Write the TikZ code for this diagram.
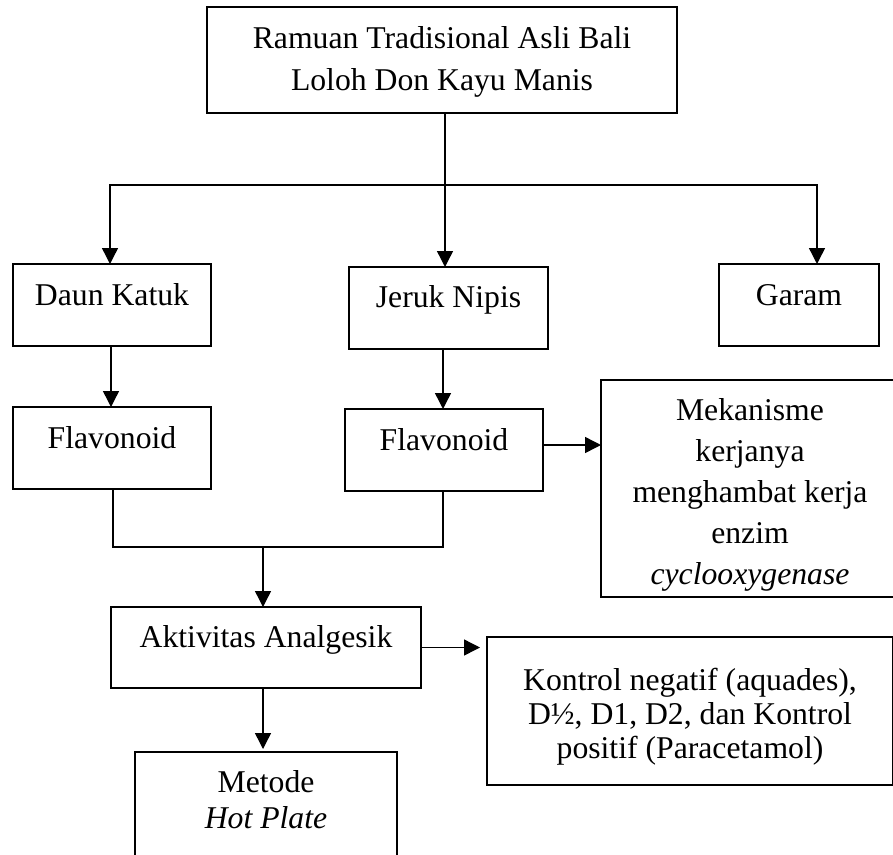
\documentclass[tikz,border=0pt]{standalone}
\usepackage{fontspec}
\setmainfont{Liberation Serif}
\usetikzlibrary{arrows.meta}
\begin{document}
\begin{tikzpicture}[x=1pt,y=-1pt,
  box/.style={draw, line width=1.5pt, inner sep=0pt, outer sep=0pt, anchor=north west},
  txt/.style={inner sep=0pt, outer sep=0pt, anchor=base, align=center, font=\fontsize{31.7}{42}\selectfont},
  conn/.style={line width=1.4pt},
  arr/.style={conn, -{Triangle[length=16pt,width=16pt]}}]
\useasboundingbox (0,0) rectangle (893,854);
\clip (0,0) rectangle (893,854);
% boxes
\node[box, minimum width=470pt, minimum height=106pt] (top) at (207,7) {};
\node[box, minimum width=198pt, minimum height=82pt] (dk) at (13,264) {};
\node[box, minimum width=199pt, minimum height=82pt] (jn) at (349,267) {};
\node[box, minimum width=160pt, minimum height=82pt] (gr) at (719,264) {};
\node[box, minimum width=198pt, minimum height=82pt] (fa) at (13,407) {};
\node[box, minimum width=198pt, minimum height=82pt] (fb) at (345,409) {};
\node[box, minimum width=298pt, minimum height=217pt] (mek) at (601,380) {};
\node[box, minimum width=310pt, minimum height=81pt] (ak) at (111,607) {};
\node[box, minimum width=406pt, minimum height=148pt] (kon) at (487,637) {};
\node[box, minimum width=262pt, minimum height=130pt] (met) at (135,752) {};
% texts
\node[txt] (topt1) at (442,48) {Ramuan Tradisional Asli Bali};
\node[txt] (topt2) at (442,90) {Loloh Don Kayu Manis};
\node[txt] (dkt) at (112,305) {Daun Katuk};
\node[txt] (jnt) at (448.5,307) {Jeruk Nipis};
\node[txt] (grt) at (799,305) {Garam};
\node[txt] (fat) at (112,448) {Flavonoid};
\node[txt] (fbt) at (444,450) {Flavonoid};
\node[txt] (mek1) at (750,420) {Mekanisme};
\node[txt] (mek2) at (750,461) {kerjanya};
\node[txt] (mek3) at (750,502) {menghambat kerja};
\node[txt] (mek4) at (750,543) {enzim};
\node[txt] (mek5) at (750,584) {\textit{cyclooxygenase}};
\node[txt] (akt) at (266,647) {Aktivitas Analgesik};
\node[txt] (kon1) at (690,690) {Kontrol negatif (aquades),};
\node[txt] (kon2) at (690,724) {D½, D1, D2, dan Kontrol};
\node[txt] (kon3) at (690,758) {positif (Paracetamol)};
\node[txt] (met1) at (266,792) {Metode};
\node[txt] (met2) at (266,828) {\textit{Hot Plate}};
% connectors
\coordinate (j1) at (445,185);
\coordinate (j2) at (263,547);
\draw[conn] (top.south -| j1) -- (j1);
\draw[arr] (j1) -| ([xshift=-2pt]dk.north);
\draw[arr] (j1) -- (j1 |- jn.north);
\draw[arr] (j1) -| ([xshift=18pt]gr.north);
\draw[arr] ([xshift=-1pt]dk.south) -- ([xshift=-1pt]fa.north);
\draw[arr] ([xshift=-1pt]fb.north |- jn.south) -- ([xshift=-1pt]fb.north);
\draw[conn] ([xshift=1pt]fa.south) |- (j2);
\draw[conn] ([xshift=-1pt]fb.south) |- (j2);
\draw[arr] (j2) -- (j2 |- ak.north);
\draw[arr] ([yshift=5pt]fb.east) -- ([yshift=5pt]fb.east -| mek.west);
\draw[arr, shorten >=7pt] (ak.east) -- (ak.east -| kon.west);
\draw[arr, shorten >=3pt] ([xshift=-3pt]ak.south) -- ([xshift=-3pt]met.north);
\end{tikzpicture}
\end{document}
